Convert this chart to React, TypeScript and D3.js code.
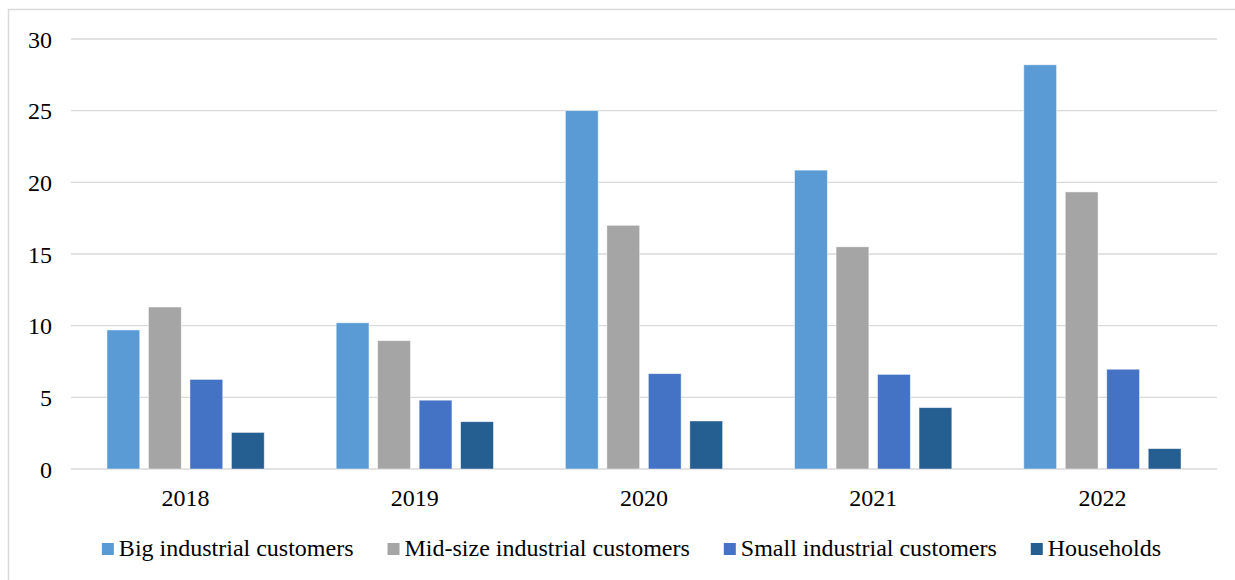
import React, { useEffect, useRef } from "react";
import * as d3 from "d3";

const years = ["2018", "2019", "2020", "2021", "2022"];
const seriesNames = [
  "Big industrial customers",
  "Mid-size industrial customers",
  "Small industrial customers",
  "Households",
];
const bigIndustrial = [9.7, 10.2, 25.0, 20.85, 28.2];
const midIndustrial = [11.3, 8.95, 17.0, 15.5, 19.33];
const smallIndustrial = [6.25, 4.8, 6.65, 6.6, 6.96];
const households = [2.55, 3.3, 3.35, 4.28, 1.42];
const yTicks = [0, 5, 10, 15, 20, 25, 30];
const colors = ["#5B9BD5", "#A5A5A5", "#4472C4", "#255E91"];

const W = 1235;
const H = 580;
const FONT = "Liberation Serif, Tinos, Times New Roman, Times, DejaVu Serif, serif";
const FS = "24px";

export default function App() {
  const ref = useRef<SVGSVGElement | null>(null);

  useEffect(() => {
    const svg = d3.select(ref.current);
    svg.selectAll("*").remove();

    const left = 71, right = 1217, top = 39, bottom = 469;
    const seriesValues = [bigIndustrial, midIndustrial, smallIndustrial, households];

    svg.append("rect")
      .attr("x", 8.5).attr("y", 9.5)
      .attr("width", W + 20).attr("height", H + 20)
      .attr("fill", "#fff")
      .attr("stroke", "#d9d9d9").attr("stroke-width", 1.5);

    const y = d3.scaleLinear().domain([0, 30]).range([bottom, top]);
    const x0 = d3.scaleBand<string>().domain(years).range([left, right])
      .paddingInner(0.314).paddingOuter(0.157);
    const x1 = d3.scaleBand<number>().domain(d3.range(seriesNames.length))
      .range([0, x0.bandwidth()]).paddingInner(0.21).paddingOuter(0);

    svg.append("g").selectAll("line").data(yTicks).join("line")
      .attr("x1", left).attr("x2", right)
      .attr("y1", d => y(d)).attr("y2", d => y(d))
      .attr("stroke", "#d9d9d9").attr("stroke-width", 1.4);

    svg.append("g").selectAll("text").data(yTicks).join("text")
      .attr("x", 52).attr("y", d => y(d) + 8.8)
      .attr("text-anchor", "end")
      .style("font-family", FONT).style("font-size", FS).attr("fill", "#000")
      .text(d => String(d));

    const groups = svg.append("g").selectAll("g").data(years).join("g")
      .attr("transform", d => `translate(${x0(d)},0)`);
    groups.selectAll("rect")
      .data((_, i) => seriesValues.map((vals, s) => ({ s, v: vals[i] })))
      .join("rect")
      .attr("x", d => x1(d.s)!)
      .attr("width", x1.bandwidth())
      .attr("y", d => y(d.v))
      .attr("height", d => y(0) - y(d.v))
      .attr("fill", d => colors[d.s])
      .attr("stroke", "rgba(255,255,255,0.55)")
      .attr("stroke-width", 0.8);

    svg.append("g").selectAll("text").data(years).join("text")
      .attr("x", d => x0(d)! + x0.bandwidth() / 2)
      .attr("y", bottom + 36.7)
      .attr("text-anchor", "middle")
      .style("font-family", FONT).style("font-size", FS).attr("fill", "#000")
      .text(d => d);

    const lg = svg.append("g");
    const items = seriesNames.map((name, i) => {
      const g = lg.append("g");
      g.append("rect").attr("x", 0).attr("y", -13).attr("width", 12).attr("height", 12)
        .attr("fill", colors[i]);
      const t = g.append("text").attr("x", 17).attr("y", 0)
        .style("font-family", FONT).style("font-size", FS).attr("fill", "#000")
        .text(name);
      const w = 17 + (t.node() as SVGTextElement).getComputedTextLength();
      return { g, w };
    });
    const gap = 34;
    const total = d3.sum(items, d => d.w) + gap * (items.length - 1);
    let cx = 631.5 - total / 2;
    items.forEach(it => {
      it.g.attr("transform", `translate(${cx},556)`);
      cx += it.w + gap;
    });
  }, []);

  return (
    <svg
      ref={ref}
      width={W}
      height={H}
      style={{ position: "absolute", left: 0, top: 0, background: "#fff" }}
    />
  );
}
